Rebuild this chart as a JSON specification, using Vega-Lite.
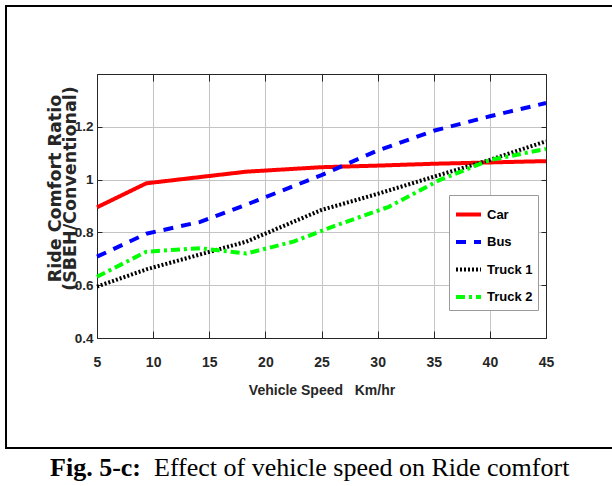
{
  "$schema": "https://vega.github.io/schema/vega-lite/v6.json",
  "padding": {"left": 5, "top": 5, "right": 0, "bottom": 0},
  "bounds": "flush",
  "spacing": 0,
  "config": {
    "view": {"stroke": "#000000", "strokeWidth": 2},
    "axis": {
      "domainColor": "#262626",
      "tickColor": "#262626",
      "labelColor": "#262626",
      "titleColor": "#262626",
      "gridColor": "#c4c4c4",
      "gridWidth": 1,
      "labelFlush": false,
      "labelOverlap": false
    }
  },
  "vconcat": [
    {
      "width": 614,
      "height": 442,
      "data": {
        "values": [
          {"vehicle": "Car", "speed": 5, "ratio": 0.895},
          {"vehicle": "Car", "speed": 9.4, "ratio": 0.986},
          {"vehicle": "Car", "speed": 18.3, "ratio": 1.03},
          {"vehicle": "Car", "speed": 25, "ratio": 1.047},
          {"vehicle": "Car", "speed": 30, "ratio": 1.053},
          {"vehicle": "Car", "speed": 35, "ratio": 1.06},
          {"vehicle": "Car", "speed": 40, "ratio": 1.065},
          {"vehicle": "Car", "speed": 45, "ratio": 1.07},
          {"vehicle": "Bus", "speed": 5, "ratio": 0.708},
          {"vehicle": "Bus", "speed": 9.4, "ratio": 0.795},
          {"vehicle": "Bus", "speed": 14.2, "ratio": 0.84},
          {"vehicle": "Bus", "speed": 18.3, "ratio": 0.905},
          {"vehicle": "Bus", "speed": 25, "ratio": 1.017},
          {"vehicle": "Bus", "speed": 30, "ratio": 1.11},
          {"vehicle": "Bus", "speed": 35, "ratio": 1.185},
          {"vehicle": "Bus", "speed": 40, "ratio": 1.24},
          {"vehicle": "Bus", "speed": 45, "ratio": 1.29},
          {"vehicle": "Truck 1", "speed": 5, "ratio": 0.595},
          {"vehicle": "Truck 1", "speed": 9.4, "ratio": 0.66},
          {"vehicle": "Truck 1", "speed": 18.3, "ratio": 0.765},
          {"vehicle": "Truck 1", "speed": 25, "ratio": 0.885},
          {"vehicle": "Truck 1", "speed": 30, "ratio": 0.946},
          {"vehicle": "Truck 1", "speed": 35, "ratio": 1.011},
          {"vehicle": "Truck 1", "speed": 40, "ratio": 1.075},
          {"vehicle": "Truck 1", "speed": 45, "ratio": 1.145},
          {"vehicle": "Truck 2", "speed": 5, "ratio": 0.632},
          {"vehicle": "Truck 2", "speed": 9.4, "ratio": 0.727},
          {"vehicle": "Truck 2", "speed": 14.2, "ratio": 0.74},
          {"vehicle": "Truck 2", "speed": 18.3, "ratio": 0.72},
          {"vehicle": "Truck 2", "speed": 22.5, "ratio": 0.765},
          {"vehicle": "Truck 2", "speed": 26, "ratio": 0.822},
          {"vehicle": "Truck 2", "speed": 31, "ratio": 0.897},
          {"vehicle": "Truck 2", "speed": 35.5, "ratio": 0.998},
          {"vehicle": "Truck 2", "speed": 40, "ratio": 1.074},
          {"vehicle": "Truck 2", "speed": 45, "ratio": 1.116}
        ]
      },
      "layer": [
        {
          "mark": {"type": "line", "strokeCap": "butt"},
          "encoding": {
            "x": {
              "field": "speed",
              "type": "quantitative",
              "scale": {"domain": [5, 45], "range": [91, 540], "nice": false, "zero": false},
              "axis": {
                "orient": "bottom",
                "offset": -110,
                "values": [5, 10, 15, 20, 25, 30, 35, 40, 45],
                "format": "d",
                "grid": false,
                "tickSize": -7,
                "labelPadding": 24.5,
                "labelFont": "Liberation Sans",
                "labelFontWeight": "bold",
                "labelFontSize": 14,
                "title": "Vehicle Speed\u00a0\u00a0\u00a0Km/hr",
                "titleFont": "Liberation Sans",
                "titleFontWeight": "bold",
                "titleFontSize": 14,
                "titlePadding": 14
              }
            },
            "y": {
              "field": "ratio",
              "type": "quantitative",
              "scale": {"domain": [0.4, 1.4], "range": [332, 68], "nice": false, "zero": false},
              "axis": {
                "orient": "left",
                "offset": -91,
                "values": [0.4, 0.6, 0.8, 1, 1.2],
                "format": "~g",
                "grid": true,
                "tickSize": -5,
                "labelPadding": 9,
                "labelFont": "Liberation Sans",
                "labelFontWeight": "bold",
                "labelFontSize": 13.5,
                "title": ["Ride Comfort Ratio", "(SBEH/Conventional)"],
                "titleFont": "DejaVu Sans",
                "titleFontWeight": "bold",
                "titleFontSize": 17.5,
                "titleLineHeight": 15,
                "titleBaseline": "bottom",
                "titleX": -33,
                "titleY": 182
              }
            },
            "color": {
              "field": "vehicle",
              "type": "nominal",
              "scale": {
                "domain": ["Car", "Bus", "Truck 1", "Truck 2"],
                "range": ["#ff0000", "#0000ff", "#000000", "#00ff00"]
              },
              "legend": {
                "orient": "none",
                "legendX": 443,
                "legendY": 189,
                "title": null,
                "strokeColor": "#9a9a9a",
                "fillColor": "#ffffff",
                "padding": 5,
                "symbolType": "stroke",
                "symbolSize": 625,
                "symbolStrokeWidth": 4,
                "rowPadding": 4.5,
                "labelOffset": 4,
                "labelFont": "Liberation Sans",
                "labelFontWeight": "bold",
                "labelFontSize": 13,
                "labelColor": "#000000"
              }
            },
            "strokeDash": {
              "field": "vehicle",
              "type": "nominal",
              "scale": {
                "domain": ["Car", "Bus", "Truck 1", "Truck 2"],
                "range": [[1, 0], [10, 8], [2, 2], [9, 4, 3, 4]]
              },
              "legend": {
                "orient": "none",
                "legendX": 443,
                "legendY": 189,
                "title": null,
                "strokeColor": "#9a9a9a",
                "fillColor": "#ffffff",
                "padding": 5,
                "symbolType": "stroke",
                "symbolSize": 625,
                "symbolStrokeWidth": 4,
                "rowPadding": 4.5,
                "labelOffset": 4,
                "labelFont": "Liberation Sans",
                "labelFontWeight": "bold",
                "labelFontSize": 13,
                "labelColor": "#000000"
              }
            },
            "strokeWidth": {
              "field": "vehicle",
              "type": "ordinal",
              "scale": {"domain": ["Car", "Bus", "Truck 1", "Truck 2"], "range": [4, 4, 3, 4]},
              "legend": null
            }
          }
        },
        {
          "mark": {"type": "line", "opacity": 0},
          "encoding": {
            "x": {
              "field": "speed",
              "type": "quantitative",
              "axis": {
                "orient": "top",
                "offset": -68,
                "values": [5, 10, 15, 20, 25, 30, 35, 40, 45],
                "grid": true,
                "tickSize": -7,
                "labels": false,
                "title": null
              }
            },
            "y": {
              "field": "ratio",
              "type": "quantitative",
              "axis": {
                "orient": "right",
                "offset": -74,
                "values": [0.4, 0.6, 0.8, 1, 1.2],
                "grid": false,
                "tickSize": -5,
                "labels": false,
                "title": null
              }
            },
            "detail": {"field": "vehicle"}
          }
        }
      ],
      "resolve": {"axis": {"x": "independent", "y": "independent"}}
    },
    {
      "width": 614,
      "height": 56,
      "data": {"values": [{"lead": "Fig. 5-c:", "body": "Effect of vehicle speed on Ride comfort"}]},
      "layer": [
        {
          "mark": {
            "type": "text",
            "align": "right",
            "baseline": "alphabetic",
            "font": "Liberation Serif",
            "fontSize": 26,
            "fontWeight": "bold",
            "color": "#000000",
            "dx": -172,
            "dy": 0
          },
          "encoding": {"text": {"field": "lead"}}
        },
        {
          "mark": {
            "type": "text",
            "align": "left",
            "baseline": "alphabetic",
            "font": "Liberation Serif",
            "fontSize": 26,
            "color": "#000000",
            "dx": -159,
            "dy": 0
          },
          "encoding": {"text": {"field": "body"}}
        }
      ]
    }
  ]
}
